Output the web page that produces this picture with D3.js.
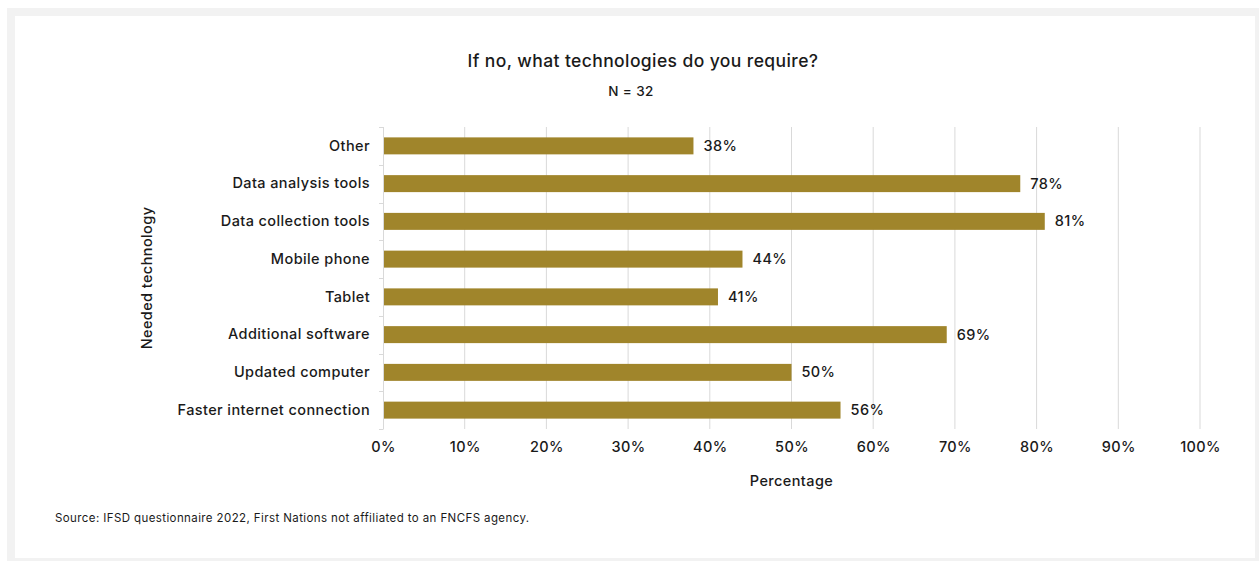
<!DOCTYPE html>
<html>
<head>
<meta charset="utf-8">
<script src="https://cdn.jsdelivr.net/npm/d3@7"></script>
<style>
  html, body { margin: 0; padding: 0; background: #ffffff; }
  svg { display: block; font-family: "Inter", "Open Sans", sans-serif; letter-spacing: 0.4px; }
</style>
</head>
<body>
<svg id="chart" width="1259" height="561"></svg>
<script>
// Survey responses: share of respondents needing each technology (N = 32)
const categories = [
  "Other",
  "Data analysis tools",
  "Data collection tools",
  "Mobile phone",
  "Tablet",
  "Additional software",
  "Updated computer",
  "Faster internet connection"
];
const values = [38, 78, 81, 44, 41, 69, 50, 56];
const xTicks = [0, 10, 20, 30, 40, 50, 60, 70, 80, 90, 100];

const titleText = "If no, what technologies do you require?";
const subtitleText = "N = 32";
const xTitle = "Percentage";
const yTitle = "Needed technology";
const sourceText = "Source: IFSD questionnaire 2022, First Nations not affiliated to an FNCFS agency.";

const svg = d3.select("#chart");
const W = 1259, H = 561;

// Outer frame and white panel
svg.append("rect").attr("x", 7).attr("y", 8).attr("width", W - 7).attr("height", H - 8).attr("fill", "#f2f2f2");
svg.append("rect").attr("x", 15).attr("y", 16).attr("width", 1240).attr("height", 542).attr("fill", "#ffffff");

const plot = { left: 383, right: 1200, top: 127, bottom: 429 };

const x = d3.scaleLinear().domain([0, 100]).range([plot.left, plot.right]);
const y = d3.scaleBand().domain(categories).range([plot.top, plot.bottom]).paddingInner(0.55).paddingOuter(0.275);

// Vertical gridlines
svg.append("g")
  .selectAll("line")
  .data(xTicks.slice(1))
  .join("line")
  .attr("x1", d => x(d)).attr("x2", d => x(d))
  .attr("y1", plot.top).attr("y2", plot.bottom)
  .attr("stroke", "#d9d9d9").attr("stroke-width", 1);

// X axis tick labels (no axis line)
const xAxis = d3.axisBottom(x).tickValues(xTicks).tickFormat(d => d + "%").tickSize(0).tickPadding(0);
const gx = svg.append("g").attr("transform", `translate(0,${plot.bottom + 13})`).call(xAxis);
gx.select(".domain").remove();
gx.selectAll("text")
  .attr("font-size", 14.5).attr("font-weight", 500).attr("fill", "#1a1a1a")
  .attr("font-family", "Inter, 'Open Sans', sans-serif");

// Category axis line with small ticks at band boundaries
svg.append("line")
  .attr("x1", plot.left + 0.5).attr("x2", plot.left + 0.5)
  .attr("y1", plot.top).attr("y2", plot.bottom)
  .attr("stroke", "#d9d9d9");
const bounds = categories.map(c => y(c) - y.step() * y.paddingInner() / 2).concat([plot.bottom]);
svg.append("g").selectAll("line").data(bounds).join("line")
  .attr("x1", plot.left - 4).attr("x2", plot.left + 0.5)
  .attr("y1", d => Math.round(d) + 0.5).attr("y2", d => Math.round(d) + 0.5)
  .attr("stroke", "#d9d9d9");

// Category labels
const yAxis = d3.axisLeft(y).tickSize(0).tickPadding(13);
const gy = svg.append("g").attr("transform", `translate(${plot.left},0)`).call(yAxis);
gy.select(".domain").remove();
gy.selectAll("text")
  .attr("font-size", 14.5).attr("font-weight", 500).attr("fill", "#1a1a1a")
  .attr("font-family", "Inter, 'Open Sans', sans-serif");

// Bars
svg.append("g").selectAll("rect")
  .data(categories.map((c, i) => ({ c, v: values[i] })))
  .join("rect")
  .attr("x", x(0) + 1)
  .attr("y", d => y(d.c))
  .attr("width", d => x(d.v) - x(0) - 1)
  .attr("height", y.bandwidth())
  .attr("fill", "#a0852b");

// Value labels
svg.append("g").selectAll("text")
  .data(categories.map((c, i) => ({ c, v: values[i] })))
  .join("text")
  .attr("x", d => x(d.v) + 10)
  .attr("y", d => y(d.c) + y.bandwidth() / 2)
  .attr("dy", "0.35em")
  .attr("font-size", 14.5).attr("font-weight", 500).attr("fill", "#1a1a1a")
  .text(d => d.v + "%");

// Titles
svg.append("text").attr("x", 643).attr("y", 67).attr("text-anchor", "middle")
  .attr("font-size", 17.5).attr("font-weight", 500).attr("fill", "#1a1a1a").text(titleText);
svg.append("text").attr("x", 631).attr("y", 96).attr("text-anchor", "middle")
  .attr("font-size", 13.5).attr("font-weight", 500).attr("fill", "#1a1a1a").text(subtitleText);

svg.append("text").attr("x", (plot.left + plot.right) / 2).attr("y", 486).attr("text-anchor", "middle")
  .attr("font-size", 14.5).attr("font-weight", 500).attr("fill", "#1a1a1a").text(xTitle);

svg.append("text")
  .attr("transform", `translate(152,${(plot.top + plot.bottom) / 2}) rotate(-90)`)
  .attr("text-anchor", "middle")
  .attr("font-size", 14.5).attr("font-weight", 500).attr("fill", "#1a1a1a").text(yTitle);

svg.append("text").attr("x", 55).attr("y", 522)
  .attr("font-size", 11.5).attr("fill", "#1a1a1a").text(sourceText);
</script>
</body>
</html>
